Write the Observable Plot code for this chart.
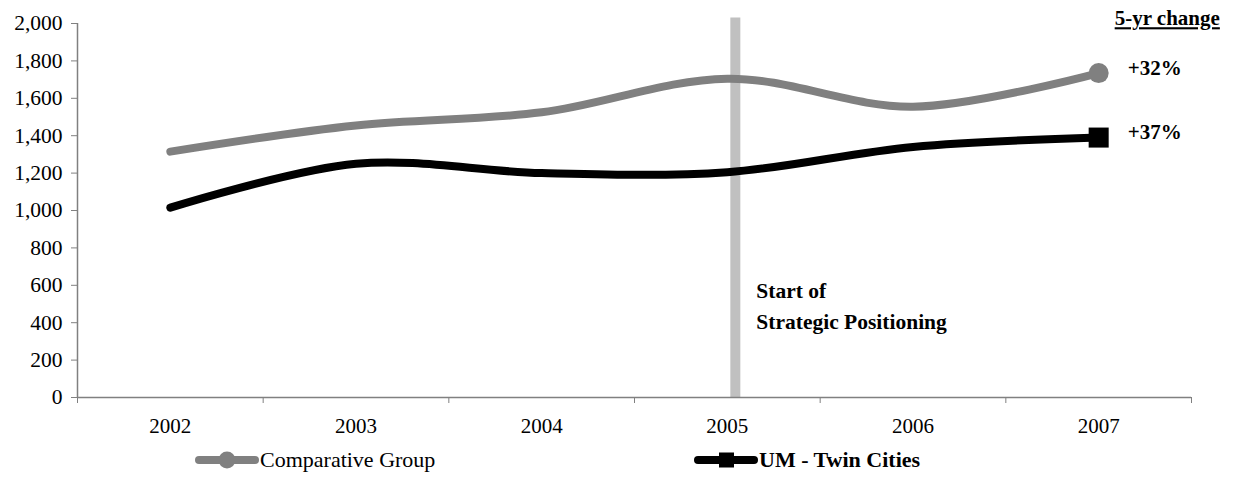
<!DOCTYPE html>
<html>
<head>
<meta charset="utf-8">
<script src="https://cdn.jsdelivr.net/npm/d3@7"></script>
<script src="https://cdn.jsdelivr.net/npm/@observablehq/plot@0.6"></script>
<style>
  html, body { margin: 0; padding: 0; background: #fff; }
  #wrap { position: relative; width: 1233px; height: 481px; font-family: "Liberation Serif", "Times New Roman", serif; }
  #legend { position: absolute; left: 0; top: 440px; width: 1233px; height: 41px; }
  .item { position: absolute; display: flex; align-items: center; height: 24px; }
  .item span { font-size: 22px; color: #000; line-height: 24px; white-space: nowrap; }
  #chart svg text { font-family: "Liberation Serif", "Times New Roman", serif; }
</style>
</head>
<body>
<div id="wrap">
  <div id="chart"></div>
  <div id="legend"></div>
</div>
<script>
const years = [2002, 2003, 2004, 2005, 2006, 2007];
const comparativeGroup = [1315, 1455, 1525, 1705, 1555, 1735];
const umTwinCities = [1015, 1250, 1200, 1205, 1340, 1390];
const seriesNames = ["Comparative Group", "UM - Twin Cities"];
const seriesColors = ["#808080", "#000000"];
const changeLabels = ["+32%", "+37%"];
const yTicks = [0, 200, 400, 600, 800, 1000, 1200, 1400, 1600, 1800, 2000];
const boundaryTicks = [2001.5, 2002.5, 2003.5, 2004.5, 2005.5, 2006.5, 2007.5];
const eventYear = 2005;
const eventLabel = "Start of\nStrategic Positioning";
const changeHeader = "5-yr change";

const compData = years.map((y, i) => ({year: y, value: comparativeGroup[i]}));
const umData = years.map((y, i) => ({year: y, value: umTwinCities[i]}));
const last = years.length - 1;
const endPoints = [
  {year: years[last], value: comparativeGroup[last], label: changeLabels[0]},
  {year: years[last], value: umTwinCities[last], label: changeLabels[1]}
];

const fontFamily = '"Liberation Serif", "Times New Roman", serif';

const chart = Plot.plot({
  width: 1233,
  height: 440,
  marginLeft: 77,
  marginRight: 42,
  marginTop: 23,
  marginBottom: 43,
  style: {fontFamily, fontSize: "21px", color: "#000", background: "#fff", overflow: "visible"},
  x: {type: "linear", domain: [2001.5, 2007.5], label: null},
  y: {domain: [0, 2000], label: null},
  marks: [
    // event rule
    Plot.ruleX([eventYear], {y1: 0, y2: 2030, stroke: "#c0c0c0", strokeWidth: 10, dx: 8}),
    // axes lines
    Plot.ruleX([2001.5], {y1: 0, y2: 2000, stroke: "#808080", strokeWidth: 1.5}),
    Plot.ruleY([0], {stroke: "#808080", strokeWidth: 1.5}),
    Plot.axisY({ticks: yTicks, tickFormat: d3.format(","), tickSize: 6, tickPadding: 9, stroke: "#808080", fill: "#000", fontSize: 21.5, fontFamily, label: null}),
    Plot.axisX({ticks: boundaryTicks, tickSize: 6, tickFormat: () => "", stroke: "#808080", label: null}),
    Plot.axisX({ticks: years, tickSize: 0, tickPadding: 21, tickFormat: d => String(d), fill: "#000", fontSize: 21, fontFamily, label: null}),
    // lines
    Plot.line(compData, {x: "year", y: "value", stroke: seriesColors[0], strokeWidth: 8, curve: "catmull-rom", strokeLinecap: "round"}),
    Plot.line(umData, {x: "year", y: "value", stroke: seriesColors[1], strokeWidth: 8, curve: "catmull-rom", strokeLinecap: "round"}),
    // end markers
    Plot.dot([endPoints[0]], {x: "year", y: "value", r: 10, fill: seriesColors[0], stroke: "none"}),
    Plot.dot([endPoints[1]], {x: "year", y: "value", r: 11.3, symbol: "square", fill: seriesColors[1], stroke: "none"}),
    // change labels
    Plot.text(endPoints, {x: "year", y: "value", text: "label", dx: 29, dy: -5, textAnchor: "start", fontWeight: "bold", fontSize: 21, fill: "#000", fontFamily}),
    Plot.text([changeHeader], {x: years[last], y: 2000, text: d => d, dx: 16, dy: -5, textAnchor: "start", fontWeight: "bold", fontSize: 21, fill: "#000", fontFamily, className: "hdr"}),
    // event annotation
    Plot.text([eventLabel], {x: eventYear, y: 503, text: d => d, dx: 29, textAnchor: "start", lineHeight: 1.43, fontWeight: "bold", fontSize: 21.5, fill: "#000", fontFamily})
  ]
});
document.getElementById("chart").appendChild(chart);
chart.querySelectorAll(".hdr text").forEach(t => { t.setAttribute("text-decoration", "underline"); t.style.textDecoration = "underline"; });

// legend
const legend = document.getElementById("legend");
const legendSpecs = [
  {name: seriesNames[0], color: seriesColors[0], left: 194, marker: "circle", bold: false},
  {name: seriesNames[1], color: seriesColors[1], left: 693, marker: "square", bold: true}
];
legendSpecs.forEach(s => {
  const item = document.createElement("div");
  item.className = "item";
  item.style.left = s.left + "px";
  item.style.top = "8px";
  const svg = d3.create("svg").attr("width", 66).attr("height", 24);
  svg.append("line").attr("x1", 5).attr("x2", 61).attr("y1", 12).attr("y2", 12)
    .attr("stroke", s.color).attr("stroke-width", 8).attr("stroke-linecap", "round");
  if (s.marker === "circle") {
    svg.append("circle").attr("cx", 33).attr("cy", 12).attr("r", 8.5).attr("fill", s.color);
  } else {
    svg.append("rect").attr("x", 26).attr("y", 4.5).attr("width", 15).attr("height", 15).attr("fill", s.color);
  }
  item.appendChild(svg.node());
  const span = document.createElement("span");
  span.textContent = s.name;
  span.style.fontWeight = s.bold ? "bold" : "normal";
  item.appendChild(span);
  legend.appendChild(item);
});
</script>
</body>
</html>
